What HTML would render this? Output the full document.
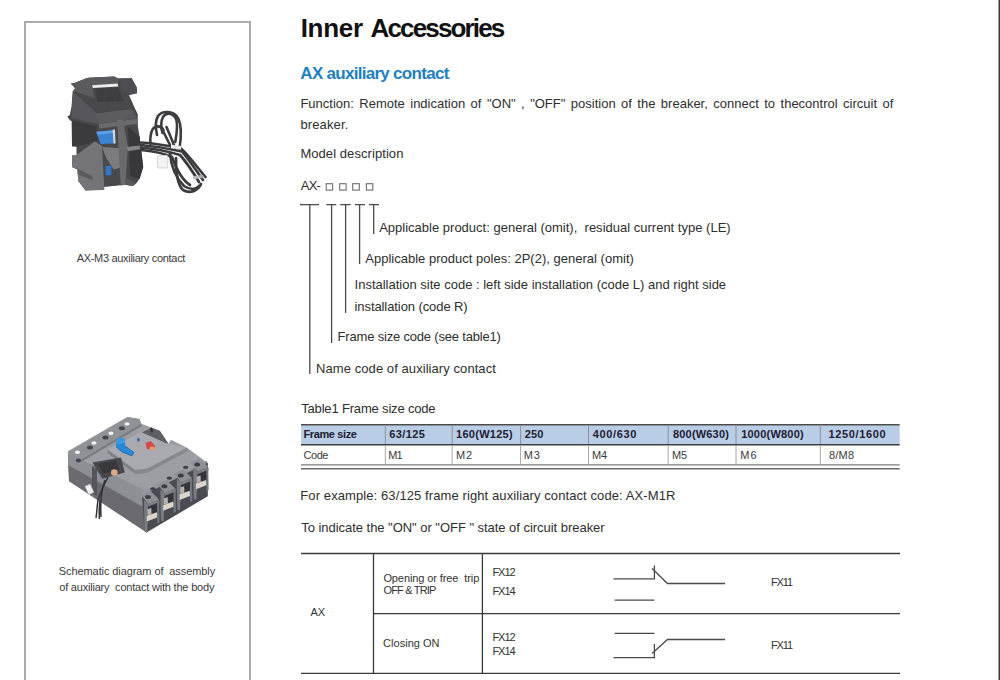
<!DOCTYPE html>
<html><head><meta charset="utf-8"><title>Inner Accessories</title>
<style>
html,body{margin:0;padding:0;background:#fff;}
body{width:1000px;height:680px;position:relative;overflow:hidden;font-family:"Liberation Sans", sans-serif;}
.tx{position:absolute;white-space:pre;}
.ln{position:absolute;}
</style></head><body>
<div class="ln" style="left:24px;top:21px;width:223px;height:700px;border:2px solid #abaab0;border-bottom:none;"></div>
<div class="ln" style="left:998px;top:0;width:2px;height:680px;background:linear-gradient(to right,#9c9c9c 50%,#3a3a3a 50%);"></div>
<svg class="ln" style="left:0;top:0" width="1000" height="680" viewBox="0 0 1000 680">
 <!-- model boxes -->
 <g fill="none" stroke="#6e6e6e" stroke-width="1.1">
  <rect x="326.2" y="183.7" width="6.4" height="6.4"/>
  <rect x="339.7" y="183.7" width="6.4" height="6.4"/>
  <rect x="352.7" y="183.7" width="6.6" height="6.4"/>
  <rect x="366.4" y="183.7" width="6.4" height="6.4"/>
 </g>
 <!-- tree -->
 <g stroke="#4a4a4a" stroke-width="1.3" fill="none">
  <path d="M300 204.6H319M326.4 204.6H336.2M340.2 204.6H350.6M355 204.6H365M369 204.6H379"/>
  <path d="M309.8 204V374M331.6 204V343M345.6 204V313M359.6 204V264M373.7 204V234"/>
 </g>
 <!-- table1 -->
 <rect x="301" y="425.2" width="598.7" height="19" fill="#b9cde6"/>
 <g fill="none">
  <path d="M301 424.7H899.7" stroke="#4a4a4a" stroke-width="1.5"/>
  <path d="M301 444.7H899.7" stroke="#3c3c44" stroke-width="1.4"/>
  <path d="M301 464.9H899.7" stroke="#7a7a7a" stroke-width="1.4"/>
  <path d="M301 468.7H899.7" stroke="#6a6a6a" stroke-width="1.6"/>
  <path d="M385.3 425V444M452.2 425V444M520.6 425V444M588.5 425V444M668.2 425V444M736 425V444M820.3 425V444" stroke="#8c90a0" stroke-width="1"/>
  <path d="M385.3 445V464.5M452.2 445V464.5M520.6 445V464.5M588.5 445V464.5M668.2 445V464.5M736 445V464.5M820.3 445V464.5" stroke="#a8a8a8" stroke-width="1"/>
 </g>
 <!-- bottom table -->
 <g fill="none" stroke="#3a3a3a" stroke-width="1.3">
  <path d="M301 553.5H900M373.5 613.6H900M301 673.4H900"/>
  <path d="M373.5 553V673.5M482.4 553V673.5"/>
 </g>
 <!-- switches -->
 <g fill="none" stroke="#4a4a4a" stroke-width="1.3">
  <path d="M613.5 578.8H654.4V565.4M652.1 568.5L667.5 583.5H725.1M614.6 600.1H654.4"/>
  <path d="M614.6 633.3H654.4M613.5 657.6H654.4V644.1M652.1 653.4L667.5 639.5H725.1"/>
 </g>
</svg>
<svg class="ln" style="left:0;top:0" width="1000" height="680" viewBox="0 0 1000 680">
<defs><filter id="bl1" x="-5%" y="-5%" width="110%" height="110%"><feGaussianBlur stdDeviation="0.5"/></filter></defs>
<g filter="url(#bl1)">
 <!-- wires behind (loops) -->
 <g fill="none" stroke="#3c3c40" stroke-width="2.6" stroke-linecap="round">
  <path d="M179.7 147 C181 138 182 126 178.2 118.3 C174 111 163 110 158 116 C155 121 155.5 128 157 135"/>
  <path d="M175.3 142 C177 132 178 122 175.5 118 C172 112.5 165.5 112.5 163 117 C160.5 122 161 128 162.5 133"/>
  <path d="M150.3 144 C150 135 151 129 155 127 C159 125.5 162 127 163.5 130"/>
  <path d="M162 129 C165 135 168 141 171.5 148"/>
  <path d="M166.5 127 C169.5 134 172.5 141 175 148"/>
 </g>
 <!-- main silhouette -->
 <path d="M70.8 83.5 L74.3 83 L85.8 78.6 L88.5 77.7 L114 76.4 L118.4 78.6 L131.7 78.2 L137 87.9 L137 93.2 L129 94.9 L135.2 109 L137.8 114.3 L137.8 126 L139.6 136.5 L143.2 167 L139.6 178.8 L136.1 183.5 L132.6 185.9 L125.5 184.7 L103.2 185.9 L100.8 189.4 L85.5 190.6 L78.5 181.2 L77.3 169.4 L72 167 L72 155.5 L76.5 155 L76.5 146.5 L72 146.2 L71.8 121 L70 120.5 L67.2 116.3 L69.8 115.3 L71.7 105.5 L72.6 91.4 L75.2 88.3 Z" fill="#48484c"/>
 <!-- top bridge lighter -->
 <path d="M70.8 83.5 L74.3 83 L85.8 78.6 L88.5 77.7 L114 76.4 L118.4 78.6 L118 83.5 L92 85.2 L94.6 98.5 L73.5 91 L75.2 88.3 Z" fill="#5a5a5e"/>
 <path d="M118.4 78.6 L131.7 78.2 L137 87.9 L137 93.2 L129 94.9 L121 88 Z" fill="#4e4e52"/>
 <!-- white bar -->
 <path d="M92 85.2 L117.6 83.5 L118.4 86.6 L92.9 87.9 Z" fill="#ececee"/>
 <!-- dark window -->
 <path d="M95.5 88.5 L118.4 87.5 L123.7 101.1 L97.3 102 Z" fill="#3e3e42"/>
 <path d="M104 89 L106 89 L106.5 101.5 L104.5 101.5 Z M113 88.5 L115 88.5 L116 101 L114 101 Z" fill="#404044"/>
 <!-- slanted left panel -->
 <path d="M73.5 92.3 L97.3 113.4 L98.2 124 L71.7 117.9 L72 100 Z" fill="#57575b"/>
 <!-- shelf -->
 <path d="M95.5 113.4 L131.7 109 L137 117.9 L99 124 Z" fill="#5c5c60"/>
 <path d="M99 124 L137.8 118.5 L137.8 124 L99 128.5 Z" fill="#6a6a6e"/>
 <!-- upper left dark -->
 <path d="M71.8 120 L96.1 125.9 L97.3 141.2 L76.5 146.5 L72 146.2 Z" fill="#3a3a3e"/>
 <!-- dark interior bottom -->
 <path d="M105.5 166 L120 167 L122 185 L104 187 Z" fill="#48484c"/>
 <!-- blue -->
 <path d="M96.1 131.8 L113.8 130 L114.9 143.5 L100.8 144.1 Z" fill="#3b84d4"/>
 <path d="M96.5 132 L113.5 130.3 L113.8 133 L97.5 134.5 Z" fill="#5fa2e6"/>
 <path d="M112.6 129.4 L115 129.4 L115.6 143.5 L113.5 143.5 Z" fill="#cfd3da"/>
 <!-- front left panel -->
 <path d="M72 155.5 L76.5 155 L94.9 141.2 L102 145.9 L104.4 190 L85.5 190.6 L78.5 181.2 L77.3 169.4 L72 167 Z" fill="#747479"/>
 <path d="M78 169 L92 176 L93 180 L79 175 Z" fill="#5a5a5e"/>
 <!-- mechanism -->
 <path d="M102 147 L120.8 148.2 L122 167 L113.8 169.4 L106.7 158.8 Z" fill="#7c7c80"/>
 <path d="M105.5 165.9 L111.4 165.9 L111.4 175.3 L105.5 175.3 Z" fill="#3575c6"/>
 <!-- vertical bar -->
 <path d="M117.3 120 L123.2 120 L127.9 147 L125.5 183.5 L120.8 185.9 L118.5 149.4 Z" fill="#6a6a6e"/>
 <!-- right dark block -->
 <path d="M127.9 127 L139.6 136.5 L143.2 167 L139.6 178.8 L130.2 176.5 Z" fill="#37373b"/>
 <!-- rod -->
 <path d="M126.7 147 L142 145.3 L143.2 148.8 L127.9 151.2 Z" fill="#838387"/>
 <!-- foot -->
 <path d="M125.5 177.6 L136.1 183.5 L132.6 185.9 L125.5 184.7 Z" fill="#57575b"/>
 <!-- wires front bundle -->
 <g fill="none" stroke="#3a3a3d" stroke-width="2.7" stroke-linecap="round">
  <path d="M141 142.5 C156 143.5 170 146 181 148.5 C190 157 197 167 205.5 177"/>
  <path d="M141 145 C157 146.5 171 149 182 151.5 C189 160 196 170 203 180"/>
  <path d="M141 147.5 C157 149 170 152 180 155 C187 163 193 172 199 182"/>
  <path d="M141 150 C155 151.5 166 154 172 157 C176 168 182 180 190 185"/>
  <path d="M176 158 C175.5 172 178 186 183 190 C190 194 198 191 201 184"/>
  <path d="M170 153 C171 166 176 178 184 186 C190 190 196 190 199 186"/>
 </g>
 <ellipse cx="195.5" cy="177.5" rx="2.8" ry="1.7" fill="#b4b4b6"/>
 <ellipse cx="201" cy="176.5" rx="2.8" ry="1.7" fill="#a4a4a6"/>
 <path d="M171 144.8 L181.2 146 L181.2 149.4 L170.9 148.2 Z" fill="#e8e8ea"/>
 <rect x="157.3" y="155.5" width="10.5" height="12.5" rx="1" fill="#f2f2f3" stroke="#cdcdd0" stroke-width="0.8"/>
</g>
</svg>
<svg class="ln" style="left:0;top:0" width="1000" height="680" viewBox="0 0 1000 680">
<defs><filter id="bl2" x="-5%" y="-5%" width="110%" height="110%"><feGaussianBlur stdDeviation="0.5"/></filter></defs>
<g filter="url(#bl2)">
 <!-- base left face -->
 <path d="M68 464 L146 508 L146.5 532.5 L69 481.3 Z" fill="#6a6a70"/>
 <!-- cover left face band -->
 <path d="M67.9 452 L146 490 L146 508.5 L68 465 Z" fill="#8d8f95"/>
 <path d="M92 466 L97 469 L97 496 L92 493 Z" fill="#55555a"/>
 <!-- top surface -->
 <path d="M67.9 451.6 L127.5 416.9 L139.4 418.9 L141.3 423.8 L149.3 426.8 L159.2 430.8 L168.1 443.7 L171.1 439.7 L187 447.7 L198.9 456.6 L206.8 462.5 L146 491 Z" fill="#9c9ea4"/>
 <!-- back ridge -->
 <path d="M67.9 451.6 L127.5 416.9 L139.4 418.9 L141.3 423.8 L81 459.5 L69 455 Z" fill="#909298"/>
 <path d="M81 459.5 L141.3 423.8 L142 426 L82 461.5 Z" fill="#7a7c82"/>
 <!-- ridge holes -->
 <g fill="#f2f2f2"><ellipse cx="77.5" cy="452.2" rx="2.6" ry="1.7"/><ellipse cx="94" cy="443" rx="2.6" ry="1.7"/><ellipse cx="111" cy="433.2" rx="2.6" ry="1.7"/><ellipse cx="127" cy="423.9" rx="2.6" ry="1.7"/></g>
 <g fill="#44464c"><ellipse cx="78.5" cy="460.5" rx="2.6" ry="2"/><ellipse cx="89.9" cy="447.6" rx="3" ry="2"/><ellipse cx="105.5" cy="437.5" rx="3" ry="2"/><ellipse cx="121.8" cy="428.3" rx="3" ry="2"/></g>
 <!-- notch dark -->
 <path d="M141.3 432.8 L151.6 427.7 L159.9 430.7 L168.1 443.1 L159.9 447.2 Z" fill="#5c5e64"/>
 <path d="M150 428 L152 427.5 L153 432 L151 432.5 Z" fill="#303034"/>
 <!-- raised cover lighter -->
 <path d="M107.6 449.6 L141 432 L168 444 L187 447.7 L147.3 468.5 L135 470 Z" fill="#a8aab0"/>
 <path d="M107.6 449.6 L135 470 L136 474.5 L108 453.5 Z" fill="#808288"/>
 <path d="M135 470 L147.3 468.5 L187 447.7 L188 451 L148 472.5 L136 474.5 Z" fill="#86888e"/>
 <!-- blue handle -->
 <path d="M115.8 447 L122 452.2 L131.8 456.3 L134.5 452.5 L125.6 446 Z" fill="#1f5f9e"/>
 <path d="M116.9 439.3 L120.5 437.7 L124.6 438.8 L125.6 447 L133.9 452.2 L131.8 455.5 L122 451.5 L115.8 446.5 Z" fill="#2c88d6"/>
 <path d="M116.9 439.3 L120.5 437.7 L124.6 438.8 L125 443 L117 444 Z" fill="#3a9ae6"/>
 <ellipse cx="138.4" cy="439.7" rx="1.4" ry="2" fill="#3464ac"/>
 <path d="M145.4 443 L151 441 L155.2 446.6 L153 450.3 L147 449 Z" fill="#d04a4a"/>
 <ellipse cx="152" cy="448.5" rx="2.5" ry="2" fill="#e09c72"/>
 <!-- accessory dark -->
 <path d="M92.3 462.5 L121 457.5 L124.8 472.5 L102.3 478.8 Z" fill="#4a4a4e"/>
 <path d="M98 464 L116 460 L119 470 L103 474 Z" fill="#38383c"/>
 <circle cx="114.3" cy="472.5" r="3.3" fill="#dba888"/>
 <!-- front terminal block tops -->
 <path d="M141.3 492.3 L206.8 460.6 L207.8 467 L142 499 Z" fill="#94969c"/>
 <!-- front face base -->
 <path d="M142 496 L207.8 462.5 L207.8 496.3 L146.5 532.5 L144.5 531 Z" fill="#4c4c52"/>
 <g id="blk">
  <path d="M141 495 L150.5 491 L159 499.5 L148.5 504 Z" fill="#8e9096"/>
  <path d="M144 500 L148.5 504 L147.2 532.3 L144.5 531 Z" fill="#7a7c82"/>
  <path d="M148.5 504 L159 499.5 L159.5 503 L148.6 507.5 Z" fill="#808288"/>
  <path d="M156.8 501 L159 499.5 L159.5 522.5 L157.3 523.8 Z" fill="#74767c"/>
  <path d="M148.4 506.5 L157 503 L157.2 514 L147 518 Z" fill="#36363a"/>
  <path d="M146.8 515.8 L157 512.3 L157.1 517.6 L146.8 521.6 Z" fill="#dad6ce"/>
  <path d="M147.4 509.2 L151.3 507.9 L151.6 514.2 L147.5 515.6 Z" fill="#b4b2ae"/>
  <ellipse cx="148" cy="497" rx="2.9" ry="2" fill="#3c3d42"/>
 </g>
 <use href="#blk" transform="translate(16.4 -10.8)"/>
 <use href="#blk" transform="translate(32.8 -21.6)"/>
 <use href="#blk" transform="translate(49.2 -32.4)"/>
 <g fill="#404248"><ellipse cx="152.9" cy="488.9" rx="2.8" ry="1.6"/><ellipse cx="169.3" cy="478.1" rx="2.8" ry="1.6"/><ellipse cx="185.7" cy="467.3" rx="2.8" ry="1.6"/></g>
 <!-- wires hanging -->
 <g fill="none" stroke="#333336" stroke-width="1.5">
  <path d="M108 477 C104 485 100 493 98 500 C97 506 97 512 96 518"/>
  <path d="M105 480 C101 490 100 500 101 517"/>
  <path d="M100 500 C99 508 99 513 99.5 519"/>
 </g>
 <rect x="86.5" y="485" width="5.5" height="9" fill="#f0f0f0" stroke="#c0c0c0" stroke-width="0.6" transform="rotate(-25 89 489)"/>
</g>
</svg>

<div id="t_title" class="tx" style="left:300.70px;top:13px;font-size:26px;line-height:30px;font-weight:700;color:#111;letter-spacing:-0.295px;">Inner</div>
<div id="t_title2" class="tx" style="left:370.60px;top:13px;font-size:26px;line-height:30px;font-weight:700;color:#111;letter-spacing:-1.861px;">Accessories</div>
<div id="t_sub" class="tx" style="left:300.32px;top:64px;font-size:17px;line-height:19px;font-weight:700;color:#1e7fc1;letter-spacing:-0.711px;">AX auxiliary contact</div>
<div id="t_func" class="tx" style="left:300.38px;top:96px;font-size:13px;line-height:15px;font-weight:400;color:#2e2e2e;word-spacing:1.832px;">Function: Remote indication of "ON" , "OFF" position of the breaker, connect to thecontrol circuit of</div>
<div id="t_brk" class="tx" style="left:300.38px;top:117px;font-size:13px;line-height:15px;font-weight:400;color:#2e2e2e;letter-spacing:0.131px;">breaker.</div>
<div id="t_model" class="tx" style="left:300.38px;top:146px;font-size:13px;line-height:15px;font-weight:400;color:#2e2e2e;letter-spacing:0.069px;">Model description</div>
<div id="t_ax" class="tx" style="left:300.72px;top:178px;font-size:13px;line-height:15px;font-weight:400;color:#2e2e2e;letter-spacing:-0.726px;">AX-</div>
<div id="t_app1" class="tx" style="left:379.16px;top:220px;font-size:13px;line-height:15px;font-weight:400;color:#2e2e2e;letter-spacing:0.005px;">Applicable product: general (omit),  residual current type (LE)</div>
<div id="t_app2" class="tx" style="left:365.28px;top:251px;font-size:13px;line-height:15px;font-weight:400;color:#2e2e2e;letter-spacing:0.011px;">Applicable product poles: 2P(2), general (omit)</div>
<div id="t_inst1" class="tx" style="left:354.54px;top:277px;font-size:13px;line-height:15px;font-weight:400;color:#2e2e2e;letter-spacing:0.002px;">Installation site code : left side installation (code L) and right side</div>
<div id="t_inst2" class="tx" style="left:354.54px;top:299px;font-size:13px;line-height:15px;font-weight:400;color:#2e2e2e;letter-spacing:-0.086px;">installation (code R)</div>
<div id="t_frame" class="tx" style="left:337.60px;top:329px;font-size:13px;line-height:15px;font-weight:400;color:#2e2e2e;letter-spacing:-0.188px;">Frame size code (see table1)</div>
<div id="t_name" class="tx" style="left:316.10px;top:361px;font-size:13px;line-height:15px;font-weight:400;color:#2e2e2e;letter-spacing:0.069px;">Name code of auxiliary contact</div>
<div id="t_tab1" class="tx" style="left:301.22px;top:401px;font-size:13px;line-height:15px;font-weight:400;color:#2e2e2e;letter-spacing:-0.173px;">Table1 Frame size code</div>
<div id="t_ex" class="tx" style="left:300.32px;top:488px;font-size:13px;line-height:15px;font-weight:400;color:#2e2e2e;letter-spacing:0.096px;">For example: 63/125 frame right auxiliary contact code: AX-M1R</div>
<div id="t_ind" class="tx" style="left:301.22px;top:520px;font-size:13px;line-height:15px;font-weight:400;color:#2e2e2e;letter-spacing:-0.035px;">To indicate the "ON" or "OFF " state of circuit breaker</div>
<div id="c_1" class="tx" style="left:76.66px;top:252px;font-size:11px;line-height:12px;font-weight:400;color:#3a3a3a;letter-spacing:-0.310px;">AX-M3 auxiliary contact</div>
<div id="c_2a" class="tx" style="left:58.82px;top:565px;font-size:11px;line-height:12px;font-weight:400;color:#3a3a3a;letter-spacing:-0.090px;">Schematic diagram of  assembly</div>
<div id="c_2b" class="tx" style="left:59.22px;top:581px;font-size:11px;line-height:12px;font-weight:400;color:#3a3a3a;letter-spacing:-0.202px;">of auxiliary  contact with the body</div>
<div id="h_0" class="tx" style="left:303.44px;top:428px;font-size:11px;line-height:12px;font-weight:700;color:#1d2033;letter-spacing:-0.382px;">Frame size</div>
<div id="h_1" class="tx" style="left:389.22px;top:428px;font-size:11px;line-height:12px;font-weight:700;color:#1d2033;letter-spacing:0.389px;">63/125</div>
<div id="h_2" class="tx" style="left:456.10px;top:428px;font-size:11px;line-height:12px;font-weight:700;color:#1d2033;letter-spacing:0.267px;">160(W125)</div>
<div id="h_3" class="tx" style="left:524.72px;top:428px;font-size:11px;line-height:12px;font-weight:700;color:#1d2033;letter-spacing:0.120px;">250</div>
<div id="h_4" class="tx" style="left:592.78px;top:428px;font-size:11px;line-height:12px;font-weight:700;color:#1d2033;letter-spacing:0.649px;">400/630</div>
<div id="h_5" class="tx" style="left:673.00px;top:428px;font-size:11px;line-height:12px;font-weight:700;color:#1d2033;letter-spacing:0.182px;">800(W630)</div>
<div id="h_6" class="tx" style="left:741.22px;top:428px;font-size:11px;line-height:12px;font-weight:700;color:#1d2033;letter-spacing:0.210px;">1000(W800)</div>
<div id="h_7" class="tx" style="left:828.60px;top:428px;font-size:11px;line-height:12px;font-weight:700;color:#1d2033;letter-spacing:0.633px;">1250/1600</div>
<div id="r_0" class="tx" style="left:303.44px;top:449px;font-size:11px;line-height:12px;font-weight:400;color:#3a3a3a;letter-spacing:-0.432px;">Code</div>
<div id="r_1" class="tx" style="left:388.32px;top:449px;font-size:11px;line-height:12px;font-weight:400;color:#3a3a3a;letter-spacing:-0.881px;">M1</div>
<div id="r_2" class="tx" style="left:456.10px;top:449px;font-size:11px;line-height:12px;font-weight:400;color:#3a3a3a;letter-spacing:0.839px;">M2</div>
<div id="r_3" class="tx" style="left:523.82px;top:449px;font-size:11px;line-height:12px;font-weight:400;color:#3a3a3a;letter-spacing:0.839px;">M3</div>
<div id="r_4" class="tx" style="left:591.88px;top:449px;font-size:11px;line-height:12px;font-weight:400;color:#3a3a3a;letter-spacing:-0.061px;">M4</div>
<div id="r_5" class="tx" style="left:672.10px;top:449px;font-size:11px;line-height:12px;font-weight:400;color:#3a3a3a;letter-spacing:-0.281px;">M5</div>
<div id="r_6" class="tx" style="left:740.32px;top:449px;font-size:11px;line-height:12px;font-weight:400;color:#3a3a3a;letter-spacing:1.059px;">M6</div>
<div id="r_7" class="tx" style="left:829.00px;top:449px;font-size:11px;line-height:12px;font-weight:400;color:#3a3a3a;letter-spacing:0.210px;">8/M8</div>
<div id="b_ax" class="tx" style="left:310.44px;top:606px;font-size:11px;line-height:12px;font-weight:400;color:#333;">AX</div>
<div id="b_op1" class="tx" style="left:383.38px;top:572px;font-size:11px;line-height:12px;font-weight:400;color:#333;letter-spacing:-0.095px;">Opening or free  trip</div>
<div id="b_op2" class="tx" style="left:383.38px;top:584px;font-size:11px;line-height:12px;font-weight:400;color:#333;letter-spacing:-0.806px;">OFF &amp; TRIP</div>
<div id="b_cl" class="tx" style="left:383.10px;top:637px;font-size:11px;line-height:12px;font-weight:400;color:#333;letter-spacing:0.017px;">Closing ON</div>
<div id="b_fx12a" class="tx" style="left:492.38px;top:566px;font-size:11px;line-height:12px;font-weight:400;color:#333;letter-spacing:-1.026px;">FX12</div>
<div id="b_fx14a" class="tx" style="left:492.38px;top:585px;font-size:11px;line-height:12px;font-weight:400;color:#333;letter-spacing:-1.026px;">FX14</div>
<div id="b_fx12b" class="tx" style="left:492.38px;top:631px;font-size:11px;line-height:12px;font-weight:400;color:#333;letter-spacing:-1.026px;">FX12</div>
<div id="b_fx14b" class="tx" style="left:492.38px;top:645px;font-size:11px;line-height:12px;font-weight:400;color:#333;letter-spacing:-1.026px;">FX14</div>
<div id="b_fx11a" class="tx" style="left:770.88px;top:576px;font-size:11px;line-height:12px;font-weight:400;color:#333;letter-spacing:-1.048px;">FX11</div>
<div id="b_fx11b" class="tx" style="left:770.88px;top:639px;font-size:11px;line-height:12px;font-weight:400;color:#333;letter-spacing:-1.048px;">FX11</div>
</body></html>
